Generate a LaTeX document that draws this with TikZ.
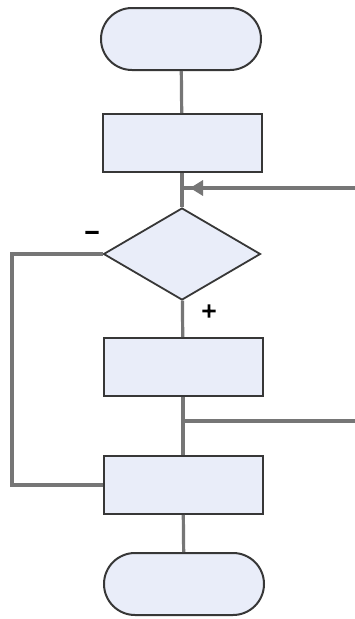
\documentclass[tikz,border=0pt]{standalone}
\usepackage{fontspec}
\newfontfamily\signfont[FakeBold=7]{DejaVu Sans}
\usetikzlibrary{shapes.geometric,shapes.misc,arrows.meta}

\definecolor{boxfill}{RGB}{233,237,249}
\definecolor{boxline}{RGB}{55,55,55}
\definecolor{linkgray}{RGB}{118,118,118}

\tikzset{
  terminal/.style={draw=boxline, fill=boxfill, line width=2pt, rounded rectangle,
    minimum width=160pt, minimum height=62pt, inner sep=0pt},
  procbox/.style={draw=boxline, fill=boxfill, line width=2pt, rectangle,
    minimum width=159pt, minimum height=58pt, inner sep=0pt},
  decision/.style={draw=boxline, fill=boxfill, line width=1.8pt, diamond,
    minimum width=157pt, minimum height=92pt, inner sep=0pt},
  link/.style={draw=linkgray, line width=3.2pt},
  sign/.style={font=\signfont\fontsize{19}{19}\selectfont, inner sep=0pt}
}

\begin{document}
\begin{tikzpicture}[x=1pt, y=1pt, yscale=-1]
\useasboundingbox[fill=white] (0,0) rectangle (354,619);

% shapes
\node[terminal] (start) at (181,39) {};
\node[procbox] (proc1) at (182,143) {};
\node[decision] (cond) at (182,254) {};
\node[procbox] (proc2) at (183,367) {};
\node[procbox] (proc3) at (183,485) {};
\node[terminal] (stop) at (184,584) {};

% points of the loops
\coordinate (merge) at (182,188);
\coordinate (backin) at (356,188);
\coordinate (split) at (183,421);
\coordinate (backout) at (356,421);
\coordinate (loopL) at (12,254);

% connectors
\draw[link] (start) -- (proc1);
\draw[link] (proc1) -- (cond);
\draw[link] (cond) -- (proc2);
\draw[link] (proc2) -- (proc3);
\draw[link] (proc3) -- (stop);
\draw[link] (cond.west) -- (loopL) |- (proc3.west);
\draw[link] (split) -- (backout);
\draw[link] (backin) -- (merge);
\draw[link, -{Triangle[length=13pt, width=15pt]}] (backin) -- ([xshift=8pt]merge);

% signs
\node[sign] (minus) at (92,235) {−};
\node[sign] (plus) at (209,311) {+};

\end{tikzpicture}
\end{document}
